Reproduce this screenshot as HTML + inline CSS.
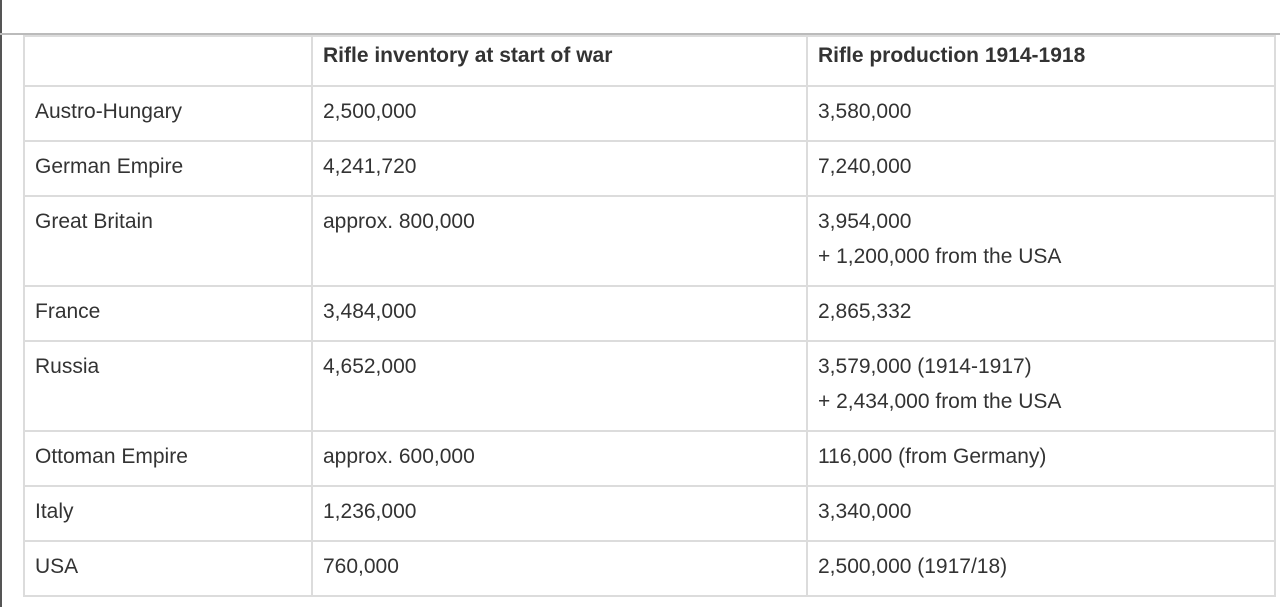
<!DOCTYPE html>
<html><head><meta charset="utf-8"><style>
body{margin:0;width:1280px;height:607px;background:#fff;overflow:hidden;position:relative;font-family:"Liberation Sans",Arial,sans-serif;color:#333}
.ln{position:absolute;background:#dcdcdc}
.t{position:absolute;font-size:21px;line-height:34px;white-space:nowrap;color:#333}
.b{font-weight:bold}
.nav{position:absolute;top:-20px;font-size:21px;letter-spacing:2px;color:#444}
</style></head><body>
<div style="position:absolute;left:0;top:0;width:2px;height:607px;background:#555"></div>
<div style="position:absolute;left:0;top:33px;width:1280px;height:2px;background:#bbb"></div>
<div class="nav" style="left:200px">THEMES</div>
<div class="nav" style="left:345px">REGIONS</div>
<div class="nav" style="left:497px">ARTICLES A-Z</div>
<div class="nav" style="left:697px">INDEX</div>
<div class="nav" style="left:818px">BIBLIOGRAPHY</div>
<div class="nav" style="left:1043px">CONTRIBUTORS</div>
<div id="tbl"></div>
<script>
const rowTops=[35,85,140,195,285,340,430,485,540,595];
const cols=[23,311,806,1274];
const tbl=document.getElementById('tbl');
function line(x,y,w,h,name){const d=document.createElement('div');d.className='ln';d.style.cssText=`left:${x}px;top:${y}px;width:${w}px;height:${h}px`;


tbl.appendChild(d);}
rowTops.forEach((y,i)=>line(cols[0],y,cols[3]-cols[0],2,'row-border'));
cols.forEach(x=>line(x,35,2,562,'column-border'));
const cells=[
[["",""],["Rifle inventory at start of war"],["Rifle production 1914-1918"]],
[["Austro-Hungary"],["2,500,000"],["3,580,000"]],
[["German Empire"],["4,241,720"],["7,240,000"]],
[["Great Britain"],["approx. 800,000"],["3,954,000","+ 1,200,000 from the USA"]],
[["France"],["3,484,000"],["2,865,332"]],
[["Russia"],["4,652,000"],["3,579,000 (1914-1917)","+ 2,434,000 from the USA"]],
[["Ottoman Empire"],["approx. 600,000"],["116,000 (from Germany)"]],
[["Italy"],["1,236,000"],["3,340,000"]],
[["USA"],["760,000"],["2,500,000 (1917/18)"]]
];
cells.forEach((row,r)=>row.forEach((lines,c)=>lines.forEach((txt,k)=>{if(!txt)return;
const d=document.createElement('div');d.className='t'+(r===0?' b':'');
d.style.left=(cols[c]+12)+'px';d.style.top=(rowTops[r]+(r===0?4:10)+k*35)+'px';d.textContent=txt;


tbl.appendChild(d);})));
</script>
</body></html>
